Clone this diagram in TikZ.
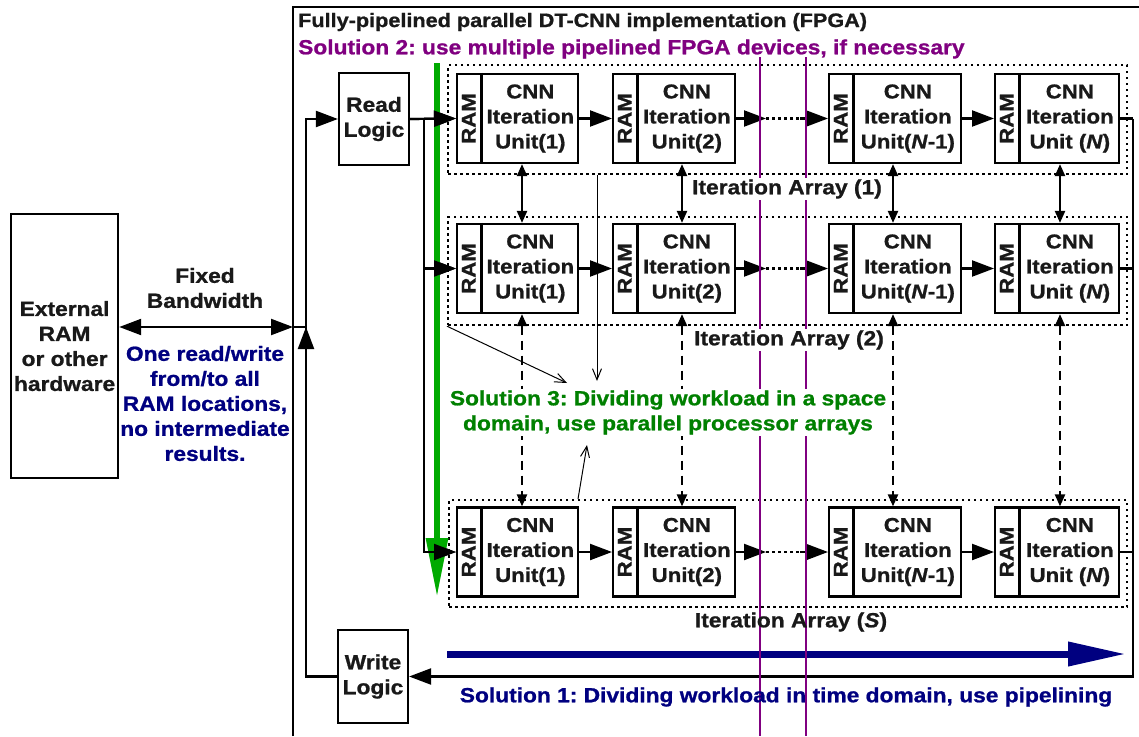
\documentclass[tikz,border=0pt]{standalone}
\usepackage{fontspec}
\setmainfont{Liberation Sans}[FakeStretch=1.11, FakeBold=1]
\frenchspacing
\usetikzlibrary{arrows.meta,calc}
\definecolor{navy}{RGB}{0,0,128}
\definecolor{purp}{RGB}{128,0,128}
\definecolor{sgreen}{RGB}{0,128,0}
\definecolor{agreen}{RGB}{0,170,0}
\definecolor{ink}{RGB}{25,25,25}
\tikzset{
 lbl/.style={font=\fontsize{20.5}{25}\selectfont\bfseries, align=center, inner sep=1pt, text=ink},
 utxt/.style={font=\fontsize{20}{25}\selectfont\bfseries, align=center, inner sep=1pt, text=ink},
 blk/.style={draw, line width=2.2pt, inner sep=0pt, font=\fontsize{20.5}{25}\selectfont\bfseries, align=center, text=ink},
 unitbox/.style={draw, line width=2.2pt, minimum height=89pt, inner sep=0pt, anchor=west},
 arrbox/.style={draw, line width=2.2pt, dash pattern=on 2.5pt off 3.5pt, anchor=north west, inner sep=0pt},
 conn/.style={line width=2.2pt},
 bigtip/.style={-{Triangle[length=22pt,width=16pt]}},
 dbltip/.style={{Triangle[length=22pt,width=16pt]}-{Triangle[length=22pt,width=16pt]}},
 vtips/.style={{Triangle[length=12pt,width=10pt]}-{Triangle[length=12pt,width=10pt]}},
 dotseg/.style={line width=2.2pt, dash pattern=on 2.5pt off 3.5pt},
 dashseg/.style={dash pattern=on 9pt off 6pt},
 fine/.style={line width=1pt, -{Straight Barb[length=11pt,width=9pt]}},
}
\newcommand\cnnunit[5]{%
 \node[unitbox, minimum width=#3pt] (#1) at (#2,#4) {};
 \draw[line width=2.2pt] ($(#1.north west)+(25.5,0)$) -- ($(#1.south west)+(25.5,0)$);
 \node[utxt, rotate=90] (#1ram) at ($(#1.west)+(12.75,0)$) {RAM};
 \node[utxt] (#1txt) at ($(#1.center)+(12.75,0)$) {CNN\\Iteration\\#5};
}
\begin{document}
\begin{tikzpicture}[x=1pt,y=-1pt]
\fill[white] (0,0) rectangle (1139,736);
\useasboundingbox (0,0) rectangle (1139,736);

% external hardware
\node[blk, minimum width=107pt, minimum height=264pt, anchor=north west] (ext) at (10,213) {};
\node[lbl] (exttxt) at (ext.center) {External\\RAM\\or other\\hardware};
\node[lbl] (fbw) at (205,288) {Fixed\\Bandwidth};
\node[lbl, text=navy] (onerw) at (205,403.5) {One read/write\\from/to all\\RAM locations,\\no intermediate\\results.};

% read / write logic
\node[blk, minimum width=70pt, minimum height=92pt] (rl) at (374,119) {Read\\Logic};
\node[blk, minimum width=70pt, minimum height=93pt] (wl) at (373,676.5) {Write\\Logic};

% iteration arrays
\node[arrbox, minimum width=679pt, minimum height=109pt] (arr1) at (447,64) {};
\node[arrbox, minimum width=679pt, minimum height=108pt] (arr2) at (447,216) {};
\node[arrbox, minimum width=678pt, minimum height=107pt] (arrS) at (448,499) {};

% units
\cnnunit{ua1}{456}{121}{118.5}{Unit(1)}
\cnnunit{ub1}{612}{122}{118.5}{Unit(2)}
\cnnunit{uc1}{828}{132}{118.5}{Unit(\textit{N}-1)}
\cnnunit{ud1}{994}{124}{118.5}{Unit (\textit{N})}
\cnnunit{ua2}{456}{121}{268.5}{Unit(1)}
\cnnunit{ub2}{612}{122}{268.5}{Unit(2)}
\cnnunit{uc2}{828}{132}{268.5}{Unit(\textit{N}-1)}
\cnnunit{ud2}{994}{124}{268.5}{Unit (\textit{N})}
\cnnunit{uaS}{456}{121}{552}{Unit(1)}
\cnnunit{ubS}{612}{122}{552}{Unit(2)}
\cnnunit{ucS}{828}{132}{552}{Unit(\textit{N}-1)}
\cnnunit{udS}{994}{124}{552}{Unit (\textit{N})}

% coordinates
\coordinate (bw) at (293,327);
\coordinate (jn) at (306,327);
\coordinate (upa) at (306,362);
\coordinate (sp) at (424,0);
\coordinate (fb) at (1133,0);
\coordinate (dx1) at (766,0);
\coordinate (dx2) at (800,0);
\coordinate (v1) at (522,0);
\coordinate (v2) at (682,0);
\coordinate (v3) at (893,0);
\coordinate (v4) at (1060,0);

% external connection
\draw[conn, dbltip] (ext.east |- bw) -- (bw);
\draw[conn] (bw) -- (jn);
\draw[conn, bigtip] (wl.west) -| (jn) |- (rl.west);
\draw[conn, bigtip] (upa) -- (jn);

% read logic distribution
\draw[conn, bigtip] (rl.east) -- (ua1.west);
\draw[conn, bigtip] (rl.east -| sp) |- (uaS.west);
\draw[conn, bigtip] (sp |- ua2.west) -- (ua2.west);

% unit chains
\foreach \r in {1,2,S}{
 \draw[conn, bigtip] (ua\r.east) -- (ub\r.west);
 \draw[conn, bigtip] (ub\r.east) -- (ub\r.east -| dx1);
 \draw[dotseg] (ub\r.east -| dx1) -- (ub\r.east -| dx2);
 \draw[conn, bigtip] (ub\r.east -| dx2) -- (uc\r.west);
 \draw[conn, bigtip] (uc\r.east) -- (ud\r.west);
 \draw[conn] (ud\r.east) -- (ud\r.east -| fb);
}
\draw[conn, bigtip] (ud1.east -| fb) -- (fb |- wl.east) -- (wl.east);

% vertical links
\draw[conn, vtips] (ua1.south -| v1) -- (ua2.north -| v1);
\draw[conn, vtips] (ub1.south -| v2) -- (ub2.north -| v2);
\draw[conn, vtips] (uc1.south -| v3) -- (uc2.north -| v3);
\draw[conn, vtips] (ud1.south -| v4) -- (ud2.north -| v4);
\draw[conn, vtips, dashseg] (ua2.south -| v1) -- (uaS.north -| v1);
\draw[conn, vtips, dashseg] (ub2.south -| v2) -- (ubS.north -| v2);
\draw[conn, vtips, dashseg] (uc2.south -| v3) -- (ucS.north -| v3);
\draw[conn, vtips, dashseg] (ud2.south -| v4) -- (udS.north -| v4);

% solution 3 pointers
\coordinate (t1e) at (567,383);
\coordinate (t2x) at (597,0);
\coordinate (t2e) at (597,381);
\coordinate (t3x) at (578,0);
\coordinate (t3e) at (587,445);
\draw[fine] (arr2.south west) -- (t1e);
\draw[fine] (arr1.south -| t2x) -- (t2e);
\draw[fine] (arrS.north -| t3x) -- (t3e);

% green arrow (solution 3)
\coordinate (ga) at (437,63);
\coordinate (gb) at (437,597);
\draw[agreen, line width=6pt, -{Triangle[length=59pt,width=21pt]}] (ga) -- (gb);
% redraw black tips over green
\draw[conn, bigtip] (rl.east) -- (ua1.west);
\draw[conn, bigtip] (sp |- ua2.west) -- (ua2.west);
\draw[conn, bigtip] (sp |- uaS.west) -- (uaS.west);

% blue arrow (solution 1)
\coordinate (ba) at (447,654);
\coordinate (bb) at (1126,654);
\draw[navy, line width=7pt, -{Triangle[length=58pt,width=23pt]}] (ba) -- (bb);

% purple device boundaries (solution 2)
\draw[purp, line width=2.2pt] (760,57) -- (760,736);
\draw[purp, line width=2.2pt] (806,57) -- (806,736);

% labels
\node[lbl, fill=white] (ia1) at (787,189) {Iteration Array (1)};
\node[lbl, fill=white] (ia2) at (789,340) {Iteration Array (2)};
\node[lbl] (iaS) at (791,622) {Iteration Array (\textit{S})};
\node[lbl, fill=white, text=sgreen] (sol3) at (668,412.5) {Solution 3: Dividing workload in a space\\domain, use parallel processor arrays};
\node[lbl, text=navy] (sol1) at (786,697) {Solution 1: Dividing workload in time domain, use pipelining};
\node[lbl, font=\fontsize{19.5}{24}\selectfont\bfseries, anchor=west] (title) at (297,22) {Fully-pipelined parallel DT-CNN implementation (FPGA)};
\node[lbl, anchor=west, text=purp] (sol2) at (297,49) {Solution 2: use multiple pipelined FPGA devices, if necessary};

% FPGA boundary
\draw[line width=2.2pt] (293,736) -- (293,7) -- (1139,7);
\end{tikzpicture}
\end{document}
